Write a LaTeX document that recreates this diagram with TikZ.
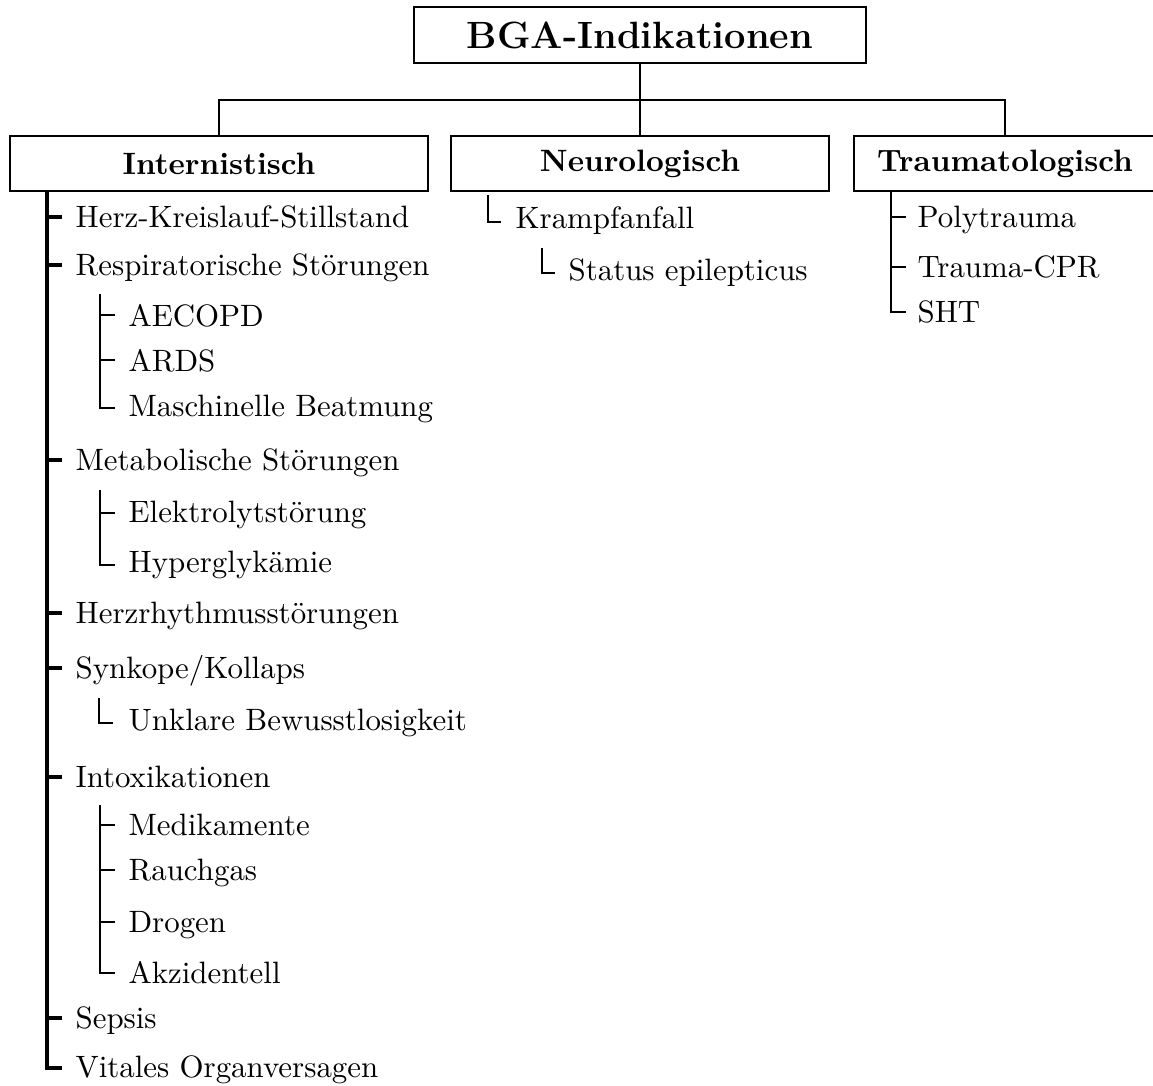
\documentclass[tikz,border=0pt]{standalone}
\usepackage{fontspec}
\begin{document}
\begin{tikzpicture}[x=0.3236pt,y=-0.3236pt,
  box/.style={draw,line width=0.65pt,inner sep=0pt,minimum height=55*0.3236pt,font=\bfseries},
  itm/.style={anchor=base west,inner sep=0pt},
  conn/.style={line width=0.65pt},
  spine/.style={line width=1.1pt},
  subspine/.style={line width=0.7pt},
  glyph/.style={line width=0.45pt}]
\useasboundingbox (0,0) rectangle (1153,1085);
% boxes
\node[box,minimum width=452*0.3236pt,minimum height=56*0.3236pt,font=\fontsize{12.3}{15}\bfseries] (title) at (640,35) {BGA-Indikationen};
\node[box,minimum width=418*0.3236pt] (intern) at (219,163.5) {Internistisch};
\node[box,minimum width=378*0.3236pt] (neuro) at (640,163.5) {Neurologisch};
\node[box,minimum width=302*0.3236pt] (trauma) at (1005,163.5) {Traumatologisch};
\coordinate (bar) at (640,100);
\draw[conn] (title.south) -- (neuro.north);
\draw[conn] (intern.north) |- (bar) -| (trauma.north);
% Internistisch
\node[itm] (i1) at (75,227) {Herz-Kreislauf-Stillstand};
\node[itm] (i2) at (75,275) {Respiratorische Störungen};
\node[itm] (i2a) at (128,326) {AECOPD};
\node[itm] (i2b) at (128,371) {ARDS};
\node[itm] (i2c) at (128,416) {Maschinelle Beatmung};
\node[itm] (i3) at (75,470) {Metabolische Störungen};
\node[itm] (i3a) at (128,522) {Elektrolytstörung};
\node[itm] (i3b) at (128,572) {Hyperglykämie};
\node[itm] (i4) at (75,623) {Herzrhythmusstörungen};
\node[itm] (i5) at (75,678) {Synkope/Kollaps};
\node[itm] (i5a) at (128,730) {Unklare Bewusstlosigkeit};
\node[itm] (i6) at (75,787) {Intoxikationen};
\node[itm] (i6a) at (128,835) {Medikamente};
\node[itm] (i6b) at (128,880) {Rauchgas};
\node[itm] (i6c) at (128,932) {Drogen};
\node[itm] (i6d) at (128,983) {Akzidentell};
\node[itm] (i7) at (75,1028) {Sepsis};
\node[itm] (i8) at (75,1077) {Vitales Organversagen};
\coordinate (isp) at (47,191);
\draw[spine] (isp) |- ([shift={(-13,-9)}]i8.base west);
\foreach \n in {i1,i2,i3,i4,i5,i6,i7}
  \draw[spine] ([shift={(-13,-10)}]\n.base west) -- ([shift={(-28,-10)}]\n.base west);
% sub lists
\draw[subspine] ([shift={(25,19)}]i2.base west) |- ([shift={(-13,-8)}]i2c.base west);
\foreach \n in {i2a,i2b}
  \draw[subspine] ([shift={(-13,-11)}]\n.base west) -- ([shift={(-28,-11)}]\n.base west);
\draw[subspine] ([shift={(25,20)}]i3.base west) |- ([shift={(-13,-7)}]i3b.base west);
\draw[subspine] ([shift={(-13,-9)}]i3a.base west) -- ([shift={(-28,-9)}]i3a.base west);
\draw[subspine] ([shift={(25,18)}]i6.base west) |- ([shift={(-13,-10)}]i6d.base west);
\foreach \n in {i6a,i6b,i6c}
  \draw[subspine] ([shift={(-13,-10)}]\n.base west) -- ([shift={(-28,-10)}]\n.base west);
\draw[glyph] ([shift={(-29,-32)}]i5a.base west) |- ([shift={(-15,-7)}]i5a.base west);
% Neurologisch
\node[itm] (n1) at (515,228) {Krampfanfall};
\node[itm] (n1a) at (568,280) {Status epilepticus};
\draw[glyph] ([shift={(-27,-33)}]n1.base west) |- ([shift={(-14,-6)}]n1.base west);
\draw[glyph] ([shift={(-26,-32)}]n1a.base west) |- ([shift={(-13,-7)}]n1a.base west);
% Traumatologisch
\node[itm] (t1) at (917,227) {Polytrauma};
\node[itm] (t2) at (917,277) {Trauma-CPR};
\node[itm] (t3) at (917,322) {SHT};
\coordinate (tsp) at (891,191);
\draw[subspine] (tsp) |- ([shift={(-11,-10)}]t3.base west);
\foreach \n in {t1,t2}
  \draw[subspine] ([shift={(-11,-10)}]\n.base west) -- ([shift={(-26,-10)}]\n.base west);
\end{tikzpicture}
\end{document}
